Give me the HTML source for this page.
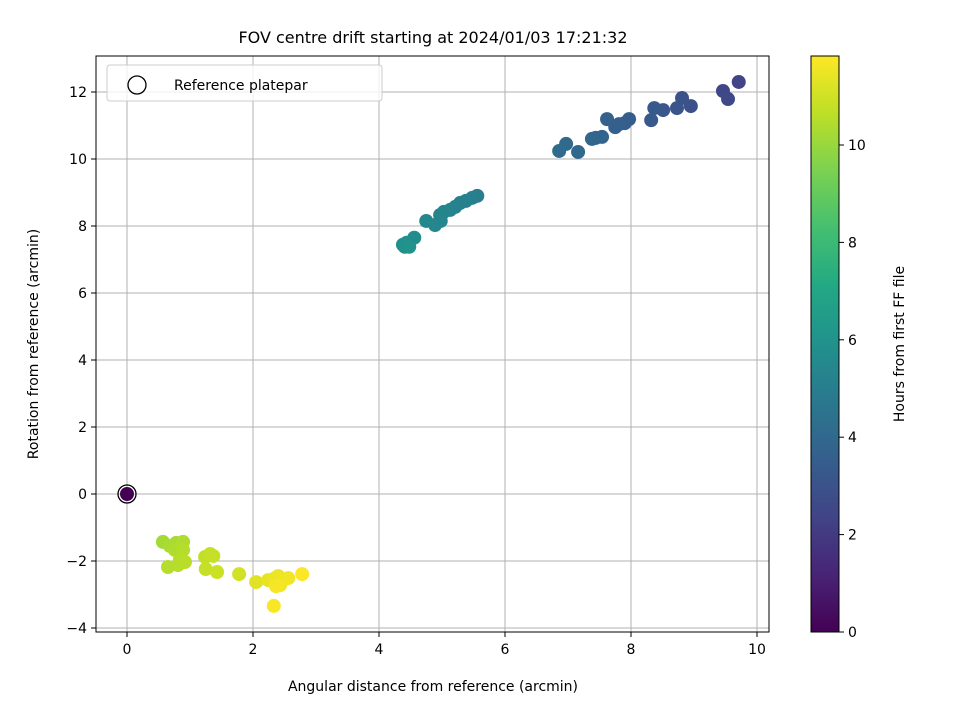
<!DOCTYPE html>
<html><head><meta charset="utf-8"><style>
body{margin:0;background:#fff;}
svg text{font-family:"DejaVu Sans","Liberation Sans",sans-serif;fill:#000;}
</style></head><body>
<svg id="chart" width="960" height="720" xmlns="http://www.w3.org/2000/svg">
<defs>
<linearGradient id="vir" x1="0" y1="1" x2="0" y2="0">
<stop offset="0" stop-color="#440154"/><stop offset="0.1" stop-color="#482475"/><stop offset="0.2" stop-color="#414487"/><stop offset="0.3" stop-color="#355f8d"/><stop offset="0.4" stop-color="#2a788e"/><stop offset="0.5" stop-color="#21918c"/><stop offset="0.6" stop-color="#22a884"/><stop offset="0.7" stop-color="#44bf70"/><stop offset="0.8" stop-color="#7ad151"/><stop offset="0.9" stop-color="#bddf26"/><stop offset="1" stop-color="#fde725"/>
</linearGradient>
<clipPath id="pc"><rect x="96" y="56" width="673" height="576"/></clipPath>
</defs>
<text x="433" y="43" font-size="16" text-anchor="middle">FOV centre drift starting at 2024/01/03 17:21:32</text>
<g id="grid"></g>
<g id="pts" clip-path="url(#pc)"></g>
<rect x="96" y="56" width="673" height="576" fill="none" stroke="#000" stroke-width="1"/>
<g id="axes"></g>
<text x="433" y="691" font-size="14" text-anchor="middle">Angular distance from reference (arcmin)</text>
<text transform="translate(38,344) rotate(-90)" font-size="14" text-anchor="middle">Rotation from reference (arcmin)</text>
<g>
<rect x="107" y="65" width="275" height="36" rx="3" fill="#fff" fill-opacity="0.8" stroke="#ccc"/>
<circle cx="137" cy="85" r="9" fill="none" stroke="#000" stroke-width="1.3"/>
<text x="174" y="90" font-size="14">Reference platepar</text>
</g>
<rect x="811" y="56" width="28" height="576" fill="url(#vir)" stroke="#000" stroke-width="1"/>
<g id="cbax"></g>
<text transform="translate(904,344) rotate(-90)" font-size="14" text-anchor="middle">Hours from first FF file</text>
</svg>
<script>
const xTicks=[0,2,4,6,8,10];
const yTicks=[-4,-2,0,2,4,6,8,10,12];
const cbTicks=[0,2,4,6,8,10];
const xs=[9.71,9.46,9.54,8.95,8.81,8.73,8.51,8.37,8.32,7.97,7.90,7.81,7.75,7.62,7.54,7.44,7.38,7.16,6.97,6.86,
5.56,5.48,5.38,5.29,5.21,5.13,5.03,4.97,4.98,4.89,4.75,4.56,4.44,4.41,4.38,4.48,
0.57,0.68,0.78,0.89,0.76,0.89,0.84,0.65,0.81,0.92,1.24,1.32,1.37,1.25,1.43,1.78,
2.05,2.24,2.35,2.40,2.48,2.56,2.43,2.365,2.33,2.78];
const ys=[12.30,12.03,11.79,11.58,11.82,11.52,11.46,11.52,11.16,11.19,11.07,11.04,10.95,11.19,10.66,10.63,10.60,10.21,10.45,10.24,
8.90,8.84,8.75,8.69,8.57,8.48,8.42,8.33,8.15,8.03,8.15,7.65,7.50,7.38,7.44,7.38,
-1.43,-1.55,-1.46,-1.43,-1.67,-1.67,-1.97,-2.18,-2.12,-2.03,-1.88,-1.79,-1.85,-2.24,-2.33,-2.39,
-2.63,-2.57,-2.51,-2.45,-2.57,-2.51,-2.72,-2.75,-3.34,-2.39];
const hours=[2.4,2.5,2.6,2.9,3.0,3.1,3.2,3.3,3.3,3.5,3.5,3.6,3.6,3.7,3.8,3.8,3.9,4.0,4.0,4.1,
5.0,5.05,5.1,5.15,5.2,5.25,5.3,5.35,5.4,5.45,5.5,5.7,5.8,5.85,5.9,5.95,
10.2,10.3,10.3,10.4,10.4,10.5,10.5,10.5,10.5,10.6,10.7,10.8,10.8,10.8,10.9,11.0,
11.3,11.4,11.5,11.5,11.55,11.6,11.65,11.7,11.75,11.8];
const refX=[0],refY=[0],refH=[0];
const X=v=>127+v*63, Y=v=>494-v*33.5, CB=v=>632-v*48.7;
const ns="http://www.w3.org/2000/svg";
function mk(t,a,p){const e=document.createElementNS(ns,t);for(const k in a)e.setAttribute(k,a[k]);p.appendChild(e);return e;}
const stops=[[68,1,84],[72,36,117],[65,68,135],[53,95,141],[42,120,142],[33,145,140],[34,168,132],[68,191,112],[122,209,81],[189,223,38],[253,231,37]];
function vir(h){let f=Math.max(0,Math.min(1,h/11.83))*10,i=Math.min(9,Math.floor(f)),r=f-i;const a=stops[i],b=stops[i+1];return `rgb(${a.map((c,k)=>Math.round(c+(b[k]-c)*r)).join(',')})`;}
const g=document.getElementById('grid'),ax=document.getElementById('axes'),pts=document.getElementById('pts'),cb=document.getElementById('cbax');
xTicks.forEach(t=>{const x=X(t);
const l=mk('line',{x1:x,x2:x,y1:56,y2:632,stroke:'#b0b0b0','stroke-width':1},g);
mk('line',{x1:x,x2:x,y1:632,y2:637,stroke:'#000'},ax);
const tx=mk('text',{x:x,y:654,'font-size':14,'text-anchor':'middle'},ax);tx.textContent=t;});
yTicks.forEach(t=>{const y=Y(t);
const l=mk('line',{x1:96,x2:769,y1:y,y2:y,stroke:'#b0b0b0','stroke-width':1},g);
mk('line',{x1:91,x2:96,y1:y,y2:y,stroke:'#000'},ax);
const tx=mk('text',{x:87,y:y+5,'font-size':14,'text-anchor':'end'},ax);tx.textContent=t<0?'\u2212'+(-t):t;});
cbTicks.forEach(t=>{const y=CB(t);
mk('line',{x1:839,x2:844,y1:y,y2:y,stroke:'#000'},cb);
const tx=mk('text',{x:848,y:y+5,'font-size':14},cb);tx.textContent=t;});
xs.forEach((v,i)=>{const c=mk('circle',{cx:X(v),cy:Y(ys[i]),r:7,fill:vir(hours[i])},pts);

});
refX.forEach((v,i)=>{const c=mk('circle',{cx:X(v),cy:Y(refY[i]),r:7,fill:vir(refH[i])},pts);


const o=mk('circle',{cx:X(v),cy:Y(refY[i]),r:9,fill:'none',stroke:'#000','stroke-width':1.3},pts);

});
</script>
</body></html>
